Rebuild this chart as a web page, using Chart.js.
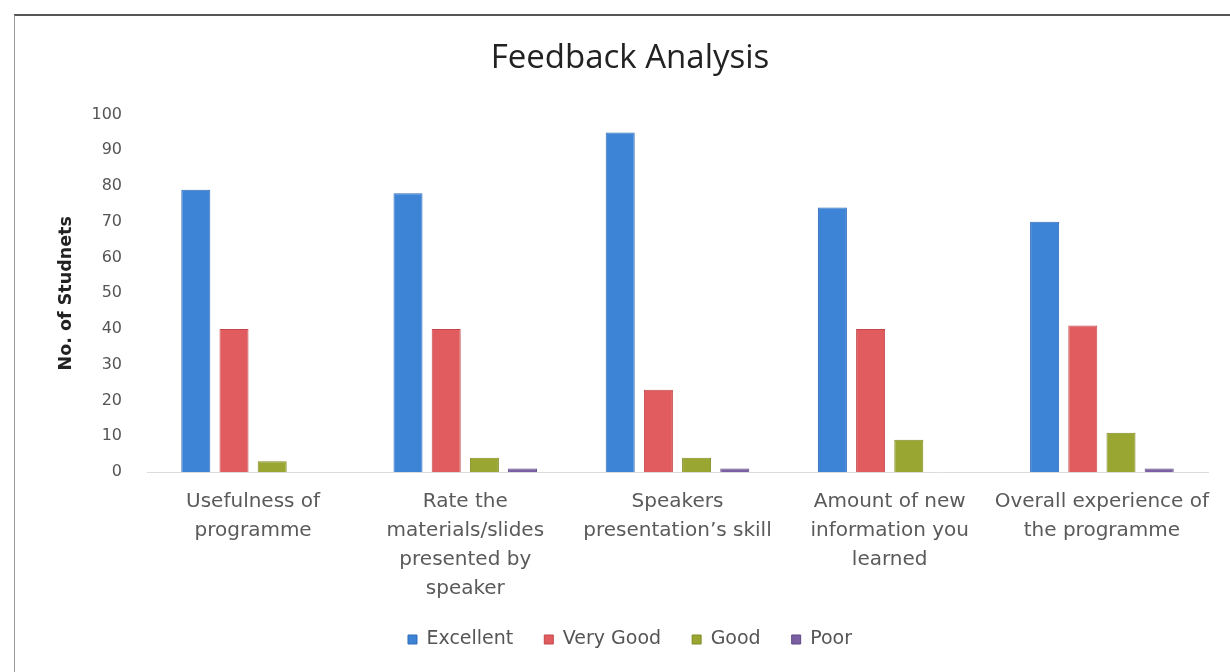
<!DOCTYPE html>
<html>
<head>
<meta charset="utf-8">
<script src="https://cdn.jsdelivr.net/npm/chart.js@4"></script>
<style>
  html, body { margin: 0; padding: 0; background: #fff; }
  #frame {
    position: absolute; left: 14px; top: 14px; width: 1216px; height: 658px;
    border-top: 2px solid #555; border-left: 1px solid #999; box-sizing: border-box;
  }
  #wrap { position: absolute; left: 0; top: 0; width: 1215px; height: 656px; }
</style>
</head>
<body>
<div id="frame"><div id="wrap"><canvas id="feedback"></canvas></div></div>
<script>
// categories (x axis labels, wrapped like the original)
const categories = [
    ['Usefulness of', 'programme'],
    ['Rate the', 'materials/slides', 'presented by', 'speaker'],
    ['Speakers', 'presentation\u2019s skill'],
    ['Amount of new', 'information you', 'learned'],
    ['Overall experience of', 'the programme']
];

// series values
const excellent = [79, 78, 95, 74, 70];
const veryGood  = [40, 40, 23, 40, 41];
const good      = [3, 4, 4, 9, 11];
const poor      = [0, 1, 1, 0, 1];

const yTicks = [0, 10, 20, 30, 40, 50, 60, 70, 80, 90, 100];

const font = '"DejaVu Sans", sans-serif';
const titleFont = '"Open Sans", sans-serif';

const ctx = document.getElementById('feedback').getContext('2d');

const feedbackChart = new Chart(ctx, {
    type: 'bar',
    data: {
        labels: categories,
        datasets: [
            { label: 'Excellent', data: excellent, backgroundColor: '#3d83d6', borderColor: '#2f6cb8', borderWidth: 1 },
            { label: 'Very Good', data: veryGood, backgroundColor: '#e05c5e', borderColor: '#c44648', borderWidth: 1 },
            { label: 'Good', data: good, backgroundColor: '#9aa632', borderColor: '#808b22', borderWidth: 1 },
            { label: 'Poor', data: poor, backgroundColor: '#7a5fa2', borderColor: '#5f4785', borderWidth: 1 }
        ]
    },
    options: {
        responsive: true,
        maintainAspectRatio: false,
        animation: false,
        datasets: {
            bar: { categoryPercentage: 0.72, barPercentage: 0.76 }
        },
        layout: { padding: { left: 37, right: 22, top: 12, bottom: 13 } },
        plugins: {
            title: {
                display: true,
                text: 'Feedback Analysis',
                color: '#222',
                font: { family: titleFont, size: 33, weight: 'normal' },
                padding: { top: 11, bottom: 36 }
            },
            legend: {
                position: 'bottom',
                labels: {
                    color: '#555',
                    font: { family: font, size: 19 },
                    boxWidth: 9,
                    boxHeight: 9,
                    padding: 31
                }
            },
            tooltip: { enabled: false }
        },
        scales: {
            x: {
                grid: { display: false, drawTicks: false },
                border: { display: true, color: '#dcdcdc', width: 1 },
                ticks: {
                    color: '#5a5a5a',
                    font: { family: font, size: 20, lineHeight: 1.45 },
                    padding: 15,
                    maxRotation: 0,
                    autoSkip: false
                },
                afterFit: (scale) => { scale.height -= 19; }
            },
            y: {
                min: 0,
                max: 100,
                afterBuildTicks: (scale) => { scale.ticks = yTicks.map(v => ({ value: v })); },
                afterFit: (scale) => { scale.width = 95; },
                grid: { display: false, drawTicks: false },
                border: { display: false },
                ticks: {
                    color: '#555',
                    font: { family: font, size: 16 },
                    padding: 25
                },
                title: {
                    display: true,
                    text: 'No. of Studnets',
                    color: '#222',
                    font: { family: font, size: 17.5, weight: 'bold' },
                    padding: { top: 4, bottom: 4 }
                }
            }
        }
    }
});
</script>
</body>
</html>
